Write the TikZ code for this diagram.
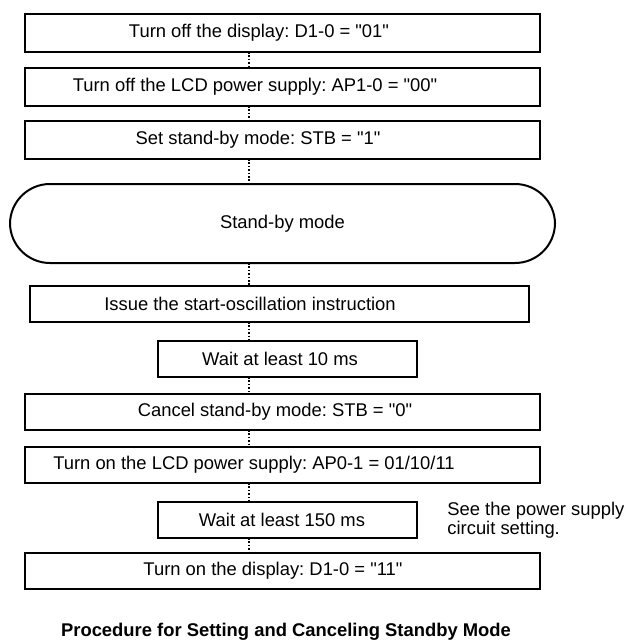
\documentclass[tikz,border=0pt]{standalone}
\usepackage{fontspec}
\setmainfont{Liberation Sans}[Ligatures=TeXOff]
\usepackage{tikz}
\usetikzlibrary{positioning}
\frenchspacing

\tikzset{
    stepbox/.style={draw, rectangle, line width=1pt, inner sep=0pt, outer sep=0pt, minimum width=257.5pt, minimum height=19pt},
    lowbox/.style={stepbox, minimum height=18pt},
    waitbox/.style={lowbox, minimum width=129.5pt},
    modebox/.style={draw, rectangle, rounded corners=20pt, line width=1pt, inner sep=0pt, outer sep=0pt, minimum width=272.5pt, minimum height=39.5pt},
    link/.style={line width=0.7pt, dash pattern=on 0.8pt off 0.9pt},
    tshift/.style={execute at begin node={\hspace*{#1pt}}},
}

\begin{document}
\begin{tikzpicture}[x=0.5pt, y=-0.5pt, font=\fontsize{9.2}{9.5}\selectfont]
    \useasboundingbox (0,0) rectangle (626,644);
    \coordinate (cx) at (249,0);

    % Nodes
    \node[stepbox, tshift=-23.5] (DispOff) at (282.5,33) {Turn off the display: D1-0 = "01"};
    \node[stepbox, tshift=-27.5, below=8pt of DispOff] (LcdOff) {Turn off the LCD power supply: AP1-0 = "00"};
    \node[stepbox, tshift=-24.5, below=7.5pt of LcdOff] (SetStb) {Set stand-by mode: STB = "1"};
    \node[modebox, below=12.5pt of SetStb] (Standby) {Stand-by mode};
    \node[lowbox, minimum width=249.5pt, tshift=-29.5, below=11.5pt of Standby, xshift=-1.5pt] (Osc) {Issue the start-oscillation instruction};
    \node[waitbox, tshift=-7.5, below=9.5pt of Osc, xshift=4pt] (Wait10) {Wait at least 10 ms};
    \node[lowbox, tshift=-7.5, below=8.5pt of Wait10, xshift=-2.5pt] (ClrStb) {Cancel stand-by mode: STB = "0"};
    \node[lowbox, tshift=-28.5, below=8.5pt of ClrStb] (LcdOn) {Turn on the LCD power supply: AP0-1 = 01/10/11};
    \node[waitbox, tshift=-5.5, below=9.5pt of LcdOn, xshift=2.5pt] (Wait150) {Wait at least 150 ms};
    \node[lowbox, tshift=-9.5, below=7.5pt of Wait150, xshift=-2.5pt] (DispOn) {Turn on the display: D1-0 = "11"};
    \node[inner sep=0pt, align=left, right=15pt of Wait150] (Note) {See the power supply\\circuit setting.};
    \node[inner sep=0pt, font=\fontsize{9.2}{9.5}\selectfont\bfseries] (Caption) at (286,632) {Procedure for Setting and Canceling Standby Mode};

    % Paths
    \path[link] (DispOff.south -| cx) edge (LcdOff.north -| cx);
    \path[link] (LcdOff.south -| cx) edge (SetStb.north -| cx);
    \path[link] (SetStb.south -| cx) edge (Standby.north -| cx);
    \path[link] (Standby.south -| cx) edge (Osc.north -| cx);
    \path[link] (Osc.south -| cx) edge (Wait10.north -| cx);
    \path[link] (Wait10.south -| cx) edge (ClrStb.north -| cx);
    \path[link] (ClrStb.south -| cx) edge (LcdOn.north -| cx);
    \path[link] (LcdOn.south -| cx) edge (Wait150.north -| cx);
    \path[link] (Wait150.south -| cx) edge (DispOn.north -| cx);
\end{tikzpicture}
\end{document}
